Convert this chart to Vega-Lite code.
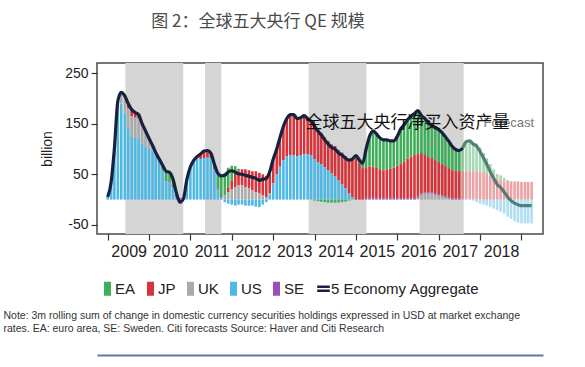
{
  "$schema": "https://vega.github.io/schema/vega-lite/v6.json",
  "width": 446,
  "height": 171,
  "autosize": {"type": "none"},
  "padding": {"left": 97, "top": 63, "right": 42, "bottom": 133},
  "background": "white",
  "title": {
    "text": "图 2：全球五大央行 QE 规模",
    "font": "Noto Sans CJK SC",
    "fontSize": 17,
    "fontWeight": "normal",
    "color": "#4a4a4a",
    "anchor": "middle",
    "frame": "group",
    "dx": -62,
    "offset": 32
  },
  "datasets": {
    "m": [
      {"d": "2009-01", "EA": 0, "JP": 0, "UK": 0, "US": 5, "SE": 0, "agg": 5},
      {"d": "2009-02", "EA": 0, "JP": 0, "UK": 0, "US": 35, "SE": 0, "agg": 35},
      {"d": "2009-03", "EA": 0, "JP": 0, "UK": 5, "US": 95, "SE": 0, "agg": 100},
      {"d": "2009-04", "EA": 0, "JP": 0, "UK": 25, "US": 170, "SE": 0, "agg": 195},
      {"d": "2009-05", "EA": 0, "JP": 0, "UK": 22, "US": 190, "SE": 0, "agg": 212},
      {"d": "2009-06", "EA": 0, "JP": 0, "UK": 35, "US": 170, "SE": 0, "agg": 205},
      {"d": "2009-07", "EA": 0, "JP": 10, "UK": 40, "US": 140, "SE": 0, "agg": 190},
      {"d": "2009-08", "EA": 0, "JP": 13, "UK": 40, "US": 125, "SE": 0, "agg": 178},
      {"d": "2009-09", "EA": 0, "JP": 10, "UK": 40, "US": 122, "SE": 0, "agg": 172},
      {"d": "2009-10", "EA": 0, "JP": 8, "UK": 40, "US": 120, "SE": 0, "agg": 168},
      {"d": "2009-11", "EA": 0, "JP": 5, "UK": 35, "US": 110, "SE": 0, "agg": 150},
      {"d": "2009-12", "EA": 0, "JP": 3, "UK": 28, "US": 105, "SE": 0, "agg": 136},
      {"d": "2010-01", "EA": 0, "JP": 0, "UK": 21, "US": 100, "SE": 0, "agg": 121},
      {"d": "2010-02", "EA": 0, "JP": 0, "UK": 12, "US": 95, "SE": 0, "agg": 107},
      {"d": "2010-03", "EA": 0, "JP": 0, "UK": 5, "US": 88, "SE": 0, "agg": 93},
      {"d": "2010-04", "EA": 0, "JP": 0, "UK": 2, "US": 78, "SE": 0, "agg": 80},
      {"d": "2010-05", "EA": 10, "JP": 0, "UK": 0, "US": 58, "SE": 0, "agg": 68},
      {"d": "2010-06", "EA": 20, "JP": 0, "UK": 0, "US": 36, "SE": 0, "agg": 56},
      {"d": "2010-07", "EA": 20, "JP": 0, "UK": 0, "US": 34, "SE": 0, "agg": 54},
      {"d": "2010-08", "EA": 10, "JP": 5, "UK": 0, "US": 25, "SE": 0, "agg": 40},
      {"d": "2010-09", "EA": 2, "JP": 5, "UK": 0, "US": 5, "SE": 0, "agg": 12},
      {"d": "2010-10", "EA": 0, "JP": 3, "UK": 0, "US": -8, "SE": 0, "agg": -5},
      {"d": "2010-11", "EA": 0, "JP": 0, "UK": 0, "US": 2, "SE": 0, "agg": 2},
      {"d": "2010-12", "EA": 0, "JP": 0, "UK": 0, "US": 40, "SE": 0, "agg": 40},
      {"d": "2011-01", "EA": 0, "JP": 0, "UK": 0, "US": 65, "SE": 0, "agg": 65},
      {"d": "2011-02", "EA": 0, "JP": 0, "UK": 0, "US": 78, "SE": 0, "agg": 78},
      {"d": "2011-03", "EA": 0, "JP": 2, "UK": 0, "US": 83, "SE": 0, "agg": 85},
      {"d": "2011-04", "EA": 0, "JP": 10, "UK": 0, "US": 80, "SE": 0, "agg": 90},
      {"d": "2011-05", "EA": 0, "JP": 14, "UK": 0, "US": 82, "SE": 0, "agg": 96},
      {"d": "2011-06", "EA": 0, "JP": 14, "UK": 0, "US": 83, "SE": 0, "agg": 97},
      {"d": "2011-07", "EA": 0, "JP": 10, "UK": 0, "US": 82, "SE": 0, "agg": 92},
      {"d": "2011-08", "EA": 5, "JP": 5, "UK": 0, "US": 60, "SE": 0, "agg": 70},
      {"d": "2011-09", "EA": 30, "JP": 2, "UK": 0, "US": 20, "SE": 0, "agg": 52},
      {"d": "2011-10", "EA": 40, "JP": 2, "UK": 0, "US": 5, "SE": 0, "agg": 47},
      {"d": "2011-11", "EA": 45, "JP": 0, "UK": 8, "US": -5, "SE": 0, "agg": 48},
      {"d": "2011-12", "EA": 40, "JP": 8, "UK": 15, "US": -8, "SE": 0, "agg": 55},
      {"d": "2012-01", "EA": 30, "JP": 17, "UK": 20, "US": -10, "SE": 0, "agg": 57},
      {"d": "2012-02", "EA": 15, "JP": 26, "UK": 25, "US": -12, "SE": 0, "agg": 54},
      {"d": "2012-03", "EA": 5, "JP": 28, "UK": 28, "US": -10, "SE": 0, "agg": 51},
      {"d": "2012-04", "EA": 0, "JP": 32, "UK": 28, "US": -10, "SE": 0, "agg": 50},
      {"d": "2012-05", "EA": 0, "JP": 35, "UK": 25, "US": -12, "SE": 0, "agg": 48},
      {"d": "2012-06", "EA": 0, "JP": 36, "UK": 22, "US": -12, "SE": 0, "agg": 46},
      {"d": "2012-07", "EA": 0, "JP": 38, "UK": 18, "US": -12, "SE": 0, "agg": 44},
      {"d": "2012-08", "EA": 0, "JP": 41, "UK": 15, "US": -14, "SE": 0, "agg": 42},
      {"d": "2012-09", "EA": 0, "JP": 41, "UK": 12, "US": -15, "SE": 0, "agg": 38},
      {"d": "2012-10", "EA": 0, "JP": 42, "UK": 8, "US": -10, "SE": 0, "agg": 40},
      {"d": "2012-11", "EA": 0, "JP": 42, "UK": 5, "US": -5, "SE": 0, "agg": 42},
      {"d": "2012-12", "EA": 0, "JP": 42, "UK": 3, "US": 10, "SE": 0, "agg": 55},
      {"d": "2013-01", "EA": 0, "JP": 48, "UK": 0, "US": 32, "SE": 0, "agg": 80},
      {"d": "2013-02", "EA": 0, "JP": 50, "UK": 0, "US": 50, "SE": 0, "agg": 100},
      {"d": "2013-03", "EA": 0, "JP": 57, "UK": 0, "US": 65, "SE": 0, "agg": 122},
      {"d": "2013-04", "EA": 0, "JP": 67, "UK": 0, "US": 78, "SE": 0, "agg": 145},
      {"d": "2013-05", "EA": 0, "JP": 75, "UK": 0, "US": 85, "SE": 0, "agg": 160},
      {"d": "2013-06", "EA": 0, "JP": 80, "UK": 0, "US": 88, "SE": 0, "agg": 168},
      {"d": "2013-07", "EA": 0, "JP": 81, "UK": 0, "US": 87, "SE": 0, "agg": 168},
      {"d": "2013-08", "EA": 0, "JP": 74, "UK": 0, "US": 86, "SE": 0, "agg": 160},
      {"d": "2013-09", "EA": 0, "JP": 74, "UK": 0, "US": 88, "SE": 0, "agg": 162},
      {"d": "2013-10", "EA": 0, "JP": 76, "UK": 0, "US": 90, "SE": 0, "agg": 166},
      {"d": "2013-11", "EA": 0, "JP": 70, "UK": 0, "US": 90, "SE": 0, "agg": 160},
      {"d": "2013-12", "EA": 0, "JP": 67, "UK": 0, "US": 88, "SE": 0, "agg": 155},
      {"d": "2014-01", "EA": -2, "JP": 67, "UK": 0, "US": 80, "SE": 0, "agg": 145},
      {"d": "2014-02", "EA": -3, "JP": 64, "UK": 0, "US": 74, "SE": 0, "agg": 135},
      {"d": "2014-03", "EA": -4, "JP": 62, "UK": 0, "US": 70, "SE": 0, "agg": 128},
      {"d": "2014-04", "EA": -5, "JP": 59, "UK": 0, "US": 64, "SE": 0, "agg": 118},
      {"d": "2014-05", "EA": -6, "JP": 58, "UK": 0, "US": 58, "SE": 0, "agg": 110},
      {"d": "2014-06", "EA": -6, "JP": 57, "UK": 0, "US": 52, "SE": 0, "agg": 103},
      {"d": "2014-07", "EA": -6, "JP": 60, "UK": 0, "US": 46, "SE": 0, "agg": 100},
      {"d": "2014-08", "EA": -6, "JP": 60, "UK": 0, "US": 38, "SE": 0, "agg": 92},
      {"d": "2014-09", "EA": -5, "JP": 63, "UK": 0, "US": 30, "SE": 0, "agg": 88},
      {"d": "2014-10", "EA": -4, "JP": 64, "UK": 0, "US": 22, "SE": 0, "agg": 82},
      {"d": "2014-11", "EA": -2, "JP": 68, "UK": 0, "US": 12, "SE": 0, "agg": 78},
      {"d": "2014-12", "EA": 1, "JP": 74, "UK": 0, "US": 5, "SE": 0, "agg": 80},
      {"d": "2015-01", "EA": 5, "JP": 82, "UK": 0, "US": 0, "SE": 0, "agg": 87},
      {"d": "2015-02", "EA": 6, "JP": 72, "UK": 0, "US": 0, "SE": 0, "agg": 78},
      {"d": "2015-03", "EA": 10, "JP": 62, "UK": 0, "US": 0, "SE": 0, "agg": 72},
      {"d": "2015-04", "EA": 36, "JP": 62, "UK": 0, "US": 0, "SE": 2, "agg": 100},
      {"d": "2015-05", "EA": 60, "JP": 62, "UK": 0, "US": 0, "SE": 3, "agg": 125},
      {"d": "2015-06", "EA": 71, "JP": 62, "UK": 0, "US": 0, "SE": 3, "agg": 136},
      {"d": "2015-07", "EA": 67, "JP": 60, "UK": 0, "US": 0, "SE": 3, "agg": 130},
      {"d": "2015-08", "EA": 62, "JP": 57, "UK": 0, "US": 0, "SE": 3, "agg": 122},
      {"d": "2015-09", "EA": 60, "JP": 55, "UK": 0, "US": 0, "SE": 3, "agg": 118},
      {"d": "2015-10", "EA": 58, "JP": 57, "UK": 0, "US": 0, "SE": 3, "agg": 118},
      {"d": "2015-11", "EA": 55, "JP": 58, "UK": 0, "US": 0, "SE": 3, "agg": 116},
      {"d": "2015-12", "EA": 53, "JP": 60, "UK": 0, "US": 0, "SE": 3, "agg": 116},
      {"d": "2016-01", "EA": 58, "JP": 64, "UK": 0, "US": 0, "SE": 3, "agg": 125},
      {"d": "2016-02", "EA": 69, "JP": 68, "UK": 0, "US": 0, "SE": 3, "agg": 140},
      {"d": "2016-03", "EA": 73, "JP": 72, "UK": 0, "US": 0, "SE": 3, "agg": 148},
      {"d": "2016-04", "EA": 77, "JP": 78, "UK": 0, "US": 0, "SE": 3, "agg": 158},
      {"d": "2016-05", "EA": 80, "JP": 82, "UK": 0, "US": 0, "SE": 3, "agg": 165},
      {"d": "2016-06", "EA": 82, "JP": 85, "UK": 0, "US": 0, "SE": 3, "agg": 170},
      {"d": "2016-07", "EA": 86, "JP": 84, "UK": 3, "US": 0, "SE": 3, "agg": 176},
      {"d": "2016-08", "EA": 74, "JP": 80, "UK": 10, "US": 0, "SE": 2, "agg": 166},
      {"d": "2016-09", "EA": 72, "JP": 74, "UK": 12, "US": 0, "SE": 2, "agg": 160},
      {"d": "2016-10", "EA": 68, "JP": 70, "UK": 12, "US": 0, "SE": 2, "agg": 152},
      {"d": "2016-11", "EA": 64, "JP": 68, "UK": 12, "US": 0, "SE": 2, "agg": 146},
      {"d": "2016-12", "EA": 64, "JP": 66, "UK": 10, "US": 0, "SE": 2, "agg": 142},
      {"d": "2017-01", "EA": 64, "JP": 64, "UK": 8, "US": 0, "SE": 2, "agg": 138},
      {"d": "2017-02", "EA": 62, "JP": 62, "UK": 6, "US": 0, "SE": 2, "agg": 132},
      {"d": "2017-03", "EA": 58, "JP": 60, "UK": 4, "US": 0, "SE": 2, "agg": 124},
      {"d": "2017-04", "EA": 53, "JP": 58, "UK": 2, "US": 0, "SE": 2, "agg": 115},
      {"d": "2017-05", "EA": 47, "JP": 56, "UK": 0, "US": 0, "SE": 2, "agg": 105},
      {"d": "2017-06", "EA": 42, "JP": 55, "UK": 0, "US": 0, "SE": 2, "agg": 99},
      {"d": "2017-07", "EA": 41, "JP": 54, "UK": 0, "US": 0, "SE": 2, "agg": 97},
      {"d": "2017-08", "EA": 46, "JP": 54, "UK": 0, "US": 0, "SE": 2, "agg": 102},
      {"d": "2017-09", "EA": 59, "JP": 54, "UK": 0, "US": 0, "SE": 2, "agg": 115},
      {"d": "2017-10", "EA": 60, "JP": 54, "UK": 0, "US": 0, "SE": 2, "agg": 116},
      {"d": "2017-11", "EA": 56, "JP": 54, "UK": 0, "US": -2, "SE": 2, "agg": 110},
      {"d": "2017-12", "EA": 55, "JP": 54, "UK": 0, "US": -5, "SE": 2, "agg": 106},
      {"d": "2018-01", "EA": 49, "JP": 54, "UK": 0, "US": -8, "SE": 0, "agg": 95},
      {"d": "2018-02", "EA": 38, "JP": 54, "UK": 0, "US": -10, "SE": 0, "agg": 82},
      {"d": "2018-03", "EA": 30, "JP": 52, "UK": 0, "US": -12, "SE": 0, "agg": 70},
      {"d": "2018-04", "EA": 22, "JP": 48, "UK": 0, "US": -15, "SE": 0, "agg": 55},
      {"d": "2018-05", "EA": 16, "JP": 44, "UK": 0, "US": -18, "SE": 0, "agg": 42},
      {"d": "2018-06", "EA": 11, "JP": 40, "UK": 0, "US": -21, "SE": 0, "agg": 30},
      {"d": "2018-07", "EA": 10, "JP": 38, "UK": 0, "US": -24, "SE": 0, "agg": 24},
      {"d": "2018-08", "EA": 7, "JP": 36, "UK": 0, "US": -28, "SE": 0, "agg": 15},
      {"d": "2018-09", "EA": 3, "JP": 36, "UK": 0, "US": -34, "SE": 0, "agg": 5},
      {"d": "2018-10", "EA": 0, "JP": 36, "UK": 0, "US": -38, "SE": 0, "agg": -2},
      {"d": "2018-11", "EA": 0, "JP": 36, "UK": 0, "US": -43, "SE": 0, "agg": -7},
      {"d": "2018-12", "EA": 0, "JP": 36, "UK": 0, "US": -46, "SE": 0, "agg": -10},
      {"d": "2019-01", "EA": 0, "JP": 35, "UK": 0, "US": -47, "SE": 0, "agg": -12},
      {"d": "2019-02", "EA": 0, "JP": 35, "UK": 0, "US": -47, "SE": 0, "agg": -12},
      {"d": "2019-03", "EA": 0, "JP": 35, "UK": 0, "US": -47, "SE": 0, "agg": -12},
      {"d": "2019-04", "EA": 0, "JP": 35, "UK": 0, "US": -47, "SE": 0, "agg": -12}
    ]
  },
  "resolve": {"axis": {"x": "independent"}},
  "layer": [
    {
      "data": {"values": [
        {"s": "2009-06-06", "e": "2010-10-30"},
        {"s": "2011-05-10", "e": "2011-10-01"},
        {"s": "2013-11-10", "e": "2015-04-03"},
        {"s": "2016-07-16", "e": "2017-08-09"}
      ]},
      "mark": {"type": "rect", "color": "#d5d5d5"},
      "encoding": {
        "x": {
          "field": "s", "type": "temporal", "scale": {"type": "utc"},
          "axis": {"orient": "bottom", "offset": 121, "labels": false, "ticks": false, "title": null, "domain": true, "domainColor": "#5b7ba6", "domainWidth": 2}
        },
        "x2": {"field": "e"}
      }
    },
    {
      "data": {"name": "m"},
      "transform": [{"fold": ["EA", "JP", "UK", "US", "SE"], "as": ["series", "value"]}],
      "mark": {"type": "bar", "size": 2.6},
      "encoding": {
        "x": {
          "field": "d", "type": "temporal",
          "scale": {"type": "utc", "domain": [{"year": 2008, "month": 11, "date": 12, "utc": true}, {"year": 2019, "month": 5, "date": 27, "utc": true}]},
          "axis": {
            "orient": "bottom",
            "values": [
              {"year": 2009, "utc": true}, {"year": 2010, "utc": true}, {"year": 2011, "utc": true},
              {"year": 2012, "utc": true}, {"year": 2013, "utc": true}, {"year": 2014, "utc": true},
              {"year": 2015, "utc": true}, {"year": 2016, "utc": true}, {"year": 2017, "utc": true},
              {"year": 2018, "utc": true}, {"year": 2019, "utc": true}
            ],
            "labelExpr": "utcyear(datum.value) < 2019 ? '' + utcyear(datum.value) : ''",
            "labelOffset": 21,
            "labelFontSize": 16,
            "labelPadding": 3,
            "tickSize": 6,
            "title": ["Note: 3m rolling sum of change in domestic currency securities holdings expressed in USD at market exchange", "rates. EA: euro area, SE: Sweden. Citi forecasts Source: Haver and Citi Research"],
            "titleX": -94,
            "titleY": 76,
            "titleAlign": "left",
            "titleAnchor": "start",
            "titleBaseline": "top",
            "titleFontSize": 10.5,
            "titleFontWeight": "normal",
            "titleColor": "#333333",
            "titleLineHeight": 13
          }
        },
        "y": {
          "field": "value", "type": "quantitative", "stack": "zero",
          "scale": {"domain": [-68, 270], "nice": false, "zero": false},
          "axis": {
            "values": [-50, 0, 50, 100, 150, 200, 250],
            "labelExpr": "(datum.value + 50) % 100 == 0 ? '' + datum.value : ''",
            "labelFontSize": 14,
            "labelPadding": 3,
            "tickSize": 6,
            "title": "billion",
            "titleFontSize": 14,
            "titleFontWeight": "normal",
            "titleColor": "#222222",
            "titlePadding": 10
          }
        },
        "color": {
          "field": "series", "type": "nominal",
          "scale": {
            "domain": ["EA", "JP", "UK", "US", "SE", "5 Economy Aggregate"],
            "range": ["#3fae5a", "#d7333a", "#aaaaaa", "#4fb9e6", "#9b4fb5", "#16223f"]
          },
          "legend": {
            "orient": "none",
            "legendX": 3,
            "legendY": 218,
            "direction": "horizontal",
            "title": null,
            "symbolType": "M-0.5,-1H0.5V1H-0.5Z",
            "symbolSize": 196,
            "symbolStrokeWidth": 0,
            "labelFontSize": 15,
            "labelLimit": 300,
            "labelColor": "#222222",
            "labelOffset": 0,
            "columnPadding": 7,
            "encoding": {
              "symbols": {
                "shape": {"value": {"expr": "datum.value === '5 Economy Aggregate' ? 'M-0.9,-0.3H0.9M-0.9,0.3H0.9' : 'M-0.5,-1H0.5V1H-0.5Z'"}},
                "stroke": {"value": {"expr": "scale('color', datum.value)"}},
                "strokeWidth": {"value": {"expr": "datum.value === '5 Economy Aggregate' ? 2.5 : 0"}},
                "fill": {"value": {"expr": "datum.value === '5 Economy Aggregate' ? 'transparent' : scale('color', datum.value)"}}
              }
            }
          }
        },
        "order": {"field": "series", "sort": "descending"},
        "opacity": {"condition": {"test": "time(datum.d) >= utc(2017, 7, 1)", "value": 0.45}, "value": 1}
      }
    },
    {
      "data": {"name": "m"},
      "transform": [{"filter": "time(datum.d) <= utc(2017, 7, 1)"}],
      "mark": {"type": "line", "strokeWidth": 3.2, "interpolate": "monotone"},
      "encoding": {
        "x": {"field": "d", "type": "temporal", "scale": {"type": "utc"}, "axis": null},
        "y": {"field": "agg", "type": "quantitative"},
        "color": {"datum": "5 Economy Aggregate"}
      }
    },
    {
      "data": {"name": "m"},
      "transform": [{"filter": "time(datum.d) >= utc(2017, 7, 1)"}],
      "mark": {"type": "line", "strokeWidth": 3.2, "interpolate": "monotone", "color": "#3d6f68", "opacity": 0.85},
      "encoding": {
        "x": {"field": "d", "type": "temporal", "scale": {"type": "utc"}, "axis": null},
        "y": {"field": "agg", "type": "quantitative"}
      }
    },
    {
      "data": {"values": [{"d": "2018-02-01", "v": 152, "label": "Forecast"}]},
      "mark": {"type": "text", "align": "left", "baseline": "middle", "fontSize": 13, "color": "#777777", "font": "Liberation Sans"},
      "encoding": {
        "x": {"field": "d", "type": "temporal", "scale": {"type": "utc"}, "axis": null},
        "y": {"field": "v", "type": "quantitative"},
        "text": {"field": "label"}
      }
    },
    {
      "data": {"values": [{"d": "2013-10-13", "v": 152, "label": "全球五大央行净买入资产量"}]},
      "mark": {"type": "text", "align": "left", "baseline": "middle", "fontSize": 17, "color": "#111111", "font": "Noto Sans CJK SC"},
      "encoding": {
        "x": {"field": "d", "type": "temporal", "scale": {"type": "utc"}, "axis": null},
        "y": {"field": "v", "type": "quantitative"},
        "text": {"field": "label"}
      }
    }
  ],
  "config": {
    "font": "Liberation Sans",
    "view": {"stroke": "#4a4a4a", "strokeWidth": 1.5},
    "axis": {
      "grid": false,
      "domain": false,
      "tickColor": "#333333",
      "tickWidth": 1.2,
      "labelColor": "#222222",
      "labelFont": "Liberation Sans",
      "titleFont": "Liberation Sans"
    },
    "legend": {"labelFont": "Liberation Sans"}
  }
}
